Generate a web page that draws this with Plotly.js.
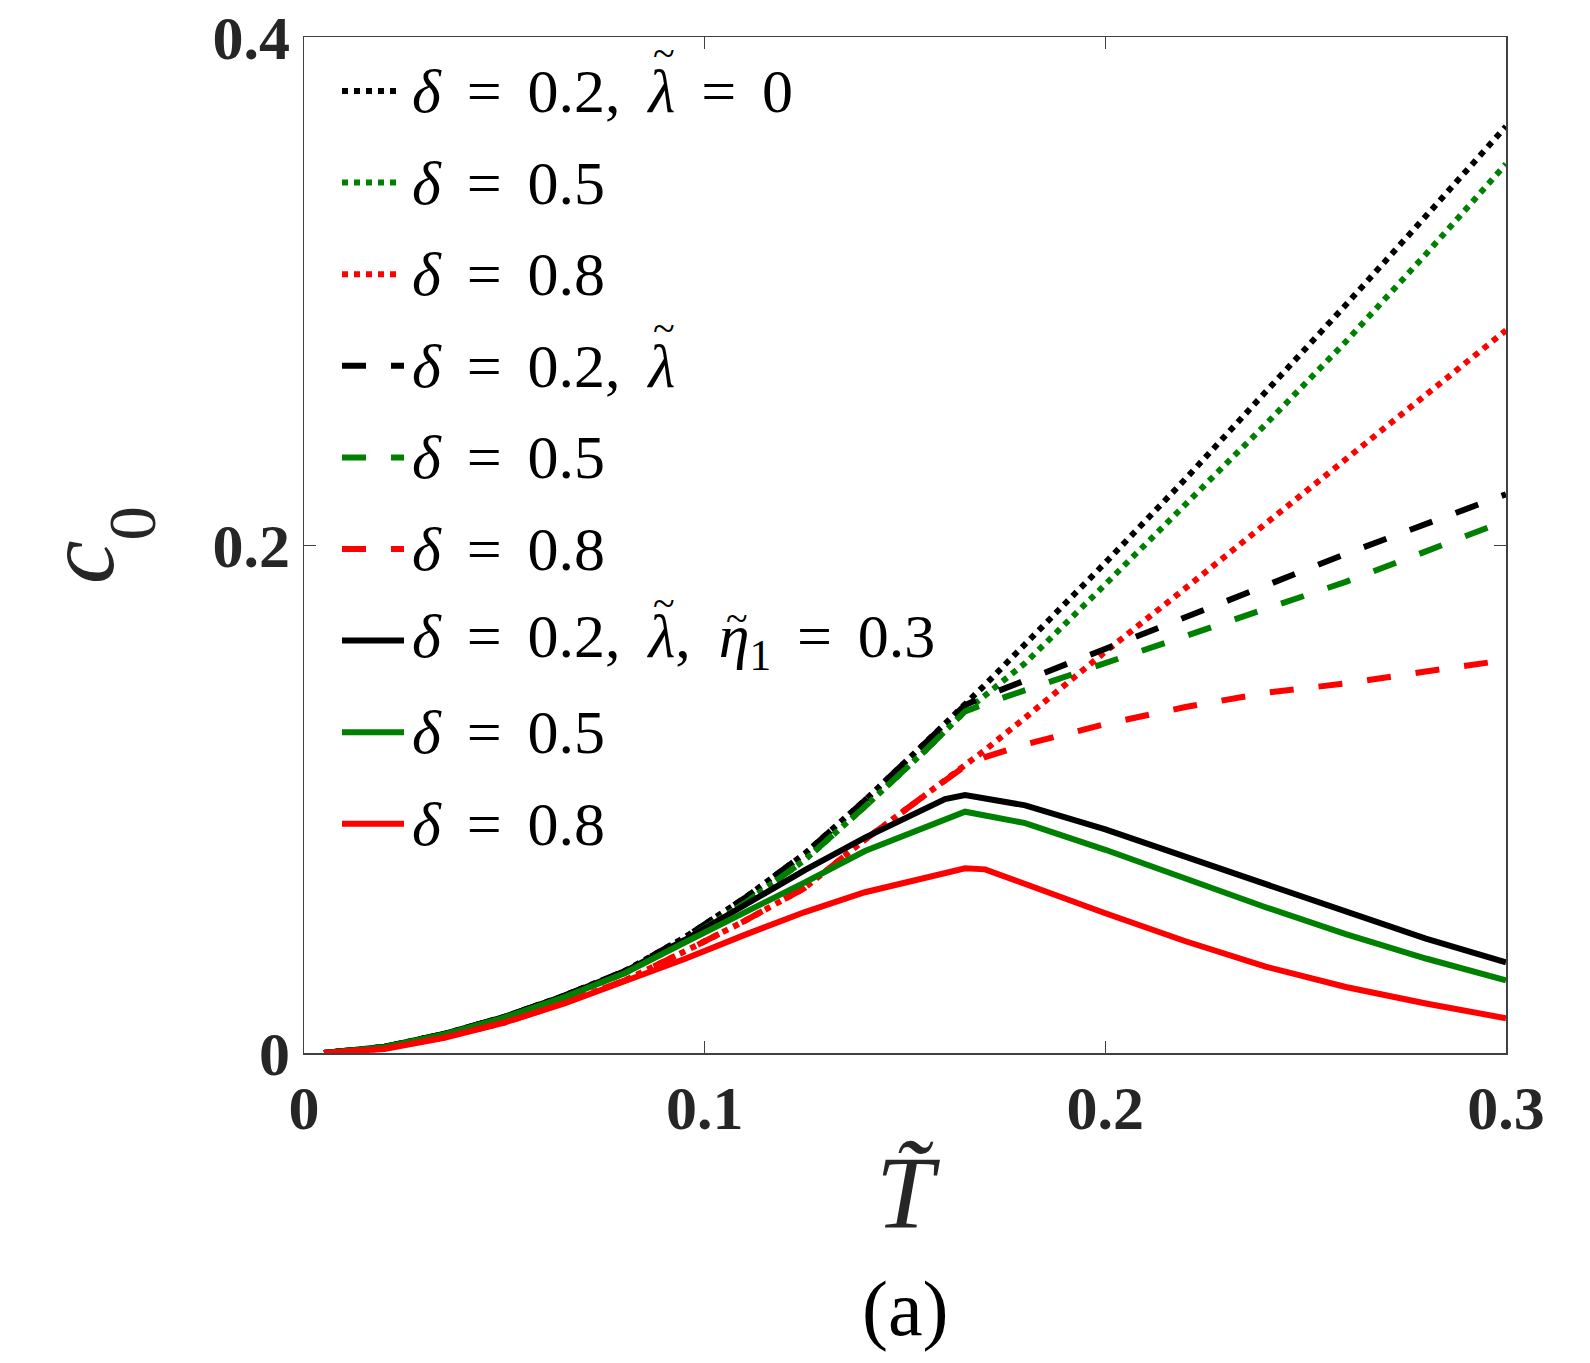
<!DOCTYPE html>
<html>
<head>
<meta charset="utf-8">
<script src="https://cdn.plot.ly/plotly-3.0.1.min.js"></script>
<style>
  html, body { margin: 0; padding: 0; background: #ffffff; }
  #chart { width: 1590px; height: 1363px; }
</style>
</head>
<body>
<div id="chart"></div>
<script>
// Reduced temperature grid shared by every curve
const T = [0.005, 0.02, 0.035, 0.05, 0.065, 0.08, 0.095, 0.11, 0.125, 0.14,
           0.155, 0.16, 0.165, 0.17, 0.18, 0.2, 0.22, 0.24, 0.26, 0.28, 0.3];

// lambda = 0 (dotted)
const c0_d02_noLambda = [0, 0.0024, 0.0075, 0.0142, 0.0226, 0.0322, 0.0455, 0.0610, 0.0785, 0.0995,
                         0.1220, 0.1295, 0.1370, 0.1450, 0.1610, 0.1930, 0.2260, 0.2600, 0.2945, 0.3295, 0.3648];
const c0_d05_noLambda = [0, 0.0023, 0.0073, 0.0139, 0.0221, 0.0315, 0.0443, 0.0590, 0.0760, 0.0970,
                         0.1190, 0.1268, 0.1345, 0.1408, 0.1535, 0.1845, 0.2160, 0.2475, 0.2800, 0.3145, 0.3500];
const c0_d08_noLambda = [0, 0.0018, 0.0062, 0.0120, 0.0198, 0.0285, 0.0400, 0.0520, 0.0650, 0.0840,
                         0.1015, 0.1072, 0.1130, 0.1193, 0.1320, 0.1580, 0.1830, 0.2085, 0.2340, 0.2595, 0.2845];

// finite lambda (dashed)
const c0_d02_lambda = [0, 0.0024, 0.0075, 0.0142, 0.0226, 0.0322, 0.0455, 0.0610, 0.0785, 0.0995,
                       0.1220, 0.1295, 0.1370, 0.1405, 0.1468, 0.1590, 0.1715, 0.1840, 0.1965, 0.2085, 0.2200];
const c0_d05_lambda = [0, 0.0023, 0.0073, 0.0139, 0.0221, 0.0315, 0.0443, 0.0590, 0.0760, 0.0970,
                       0.1190, 0.1268, 0.1345, 0.1375, 0.1428, 0.1535, 0.1645, 0.1750, 0.1855, 0.1975, 0.2096];
const c0_d08_lambda = [0, 0.0018, 0.0062, 0.0120, 0.0198, 0.0285, 0.0400, 0.0520, 0.0650, 0.0840,
                       0.1015, 0.1072, 0.1130, 0.1165, 0.1215, 0.1295, 0.1362, 0.1418, 0.1455, 0.1502, 0.1547];

// finite lambda with eta1 = 0.3 (solid)
const c0_d02_eta = [0, 0.0024, 0.0075, 0.0142, 0.0225, 0.0320, 0.0445, 0.0585, 0.0720, 0.0848,
                    0.0965, 0.1000, 0.1016, 0.1003, 0.0975, 0.0880, 0.0772, 0.0662, 0.0553, 0.0450, 0.0357];
const c0_d05_eta = [0, 0.0023, 0.0073, 0.0139, 0.0220, 0.0314, 0.0435, 0.0552, 0.0672, 0.0795,
                    0.0888, 0.0919, 0.0950, 0.0935, 0.0905, 0.0800, 0.0687, 0.0574, 0.0468, 0.0372, 0.0286];
const c0_d08_eta = [0, 0.0016, 0.0060, 0.0120, 0.0195, 0.0280, 0.0370, 0.0465, 0.0555, 0.0633,
                    0.0690, 0.0708, 0.0727, 0.0723, 0.0665, 0.0550, 0.0440, 0.0340, 0.0260, 0.0195, 0.0137];

// Legend labels, one per curve in trace order (U+0303 marks a tilde accent)
const EQ = '\u2004\u200a=\u2004\u200a';
const legendLabels = [
  '<i>δ</i>' + EQ + '0.2,\u2009 <i>λ\u0303</i>' + EQ + '0',
  '<i>δ</i>' + EQ + '0.5',
  '<i>δ</i>' + EQ + '0.8',
  '<i>δ</i>' + EQ + '0.2,\u2009 <i>λ\u0303</i>',
  '<i>δ</i>' + EQ + '0.5',
  '<i>δ</i>' + EQ + '0.8',
  '<i>δ</i>' + EQ + '0.2,\u2009 <i>λ\u0303</i>,\u2009 <i>η\u0303</i><sub>1</sub>' + EQ + '0.3',
  '<i>δ</i>' + EQ + '0.5',
  '<i>δ</i>' + EQ + '0.8'
];

const xTicks = [0, 0.1, 0.2, 0.3];
const xTickText = ['0', '0.1', '0.2', '0.3'];
const yTicks = [0, 0.2, 0.4];
const yTickText = ['0', '0.2', '0.4'];

const BLACK = '#000000', GREEN = '#008000', RED = '#ff0000';
const DOT = '6px,6px', DASH = '24px,25px', SOLID = 'solid';
const LW = 6;
const SERIF = '"Liberation Serif", "Times New Roman", Times, serif';
const FONT_NAME = 'Liberation Serif';

const series = [
  {y: c0_d02_noLambda, color: BLACK, dash: DOT},
  {y: c0_d05_noLambda, color: GREEN, dash: DOT},
  {y: c0_d08_noLambda, color: RED,   dash: DOT},
  {y: c0_d02_lambda,   color: BLACK, dash: DASH},
  {y: c0_d05_lambda,   color: GREEN, dash: DASH},
  {y: c0_d08_lambda,   color: RED,   dash: DASH},
  {y: c0_d02_eta,      color: BLACK, dash: SOLID},
  {y: c0_d05_eta,      color: GREEN, dash: SOLID},
  {y: c0_d08_eta,      color: RED,   dash: SOLID}
];

const traces = series.map((s, i) => ({
  type: 'scatter',
  mode: 'lines',
  x: T,
  y: s.y,
  name: legendLabels[i].replace(/\u0303/g, ''),
  showlegend: false,
  hoverinfo: 'skip',
  line: {color: s.color, width: LW, dash: s.dash}
}));

// Page geometry
const W = 1590, H = 1363;
const M = {l: 304, r: 84, t: 37, b: 310};
const PW = W - M.l - M.r;
const PH = H - M.t - M.b;
const px = x => (x - M.l) / PW;
const py = y => (M.t + PH - y) / PH;

// Text measuring, used to put tilde accents over Greek letters
const ctx = document.createElement('canvas').getContext('2d');
function textWidth(str, size, italic) {
  ctx.font = (italic ? 'italic ' : '') + size + 'px "' + FONT_NAME + '"';
  return ctx.measureText(str).width;
}

// Splits a label into runs, strips the accent marks and returns where they go
function layoutLabel(label, size) {
  const parts = label.split(/(<i>.*?<\/i>|<sub>.*?<\/sub>)/).filter(p => p.length);
  let x = 0;
  const accents = [];
  parts.forEach(p => {
    let italic = false, sz = size, inner = p;
    if (p.startsWith('<i>')) { italic = true; inner = p.slice(3, -4); }
    else if (p.startsWith('<sub>')) { sz = size * 0.7; inner = p.slice(5, -6); }
    const chars = Array.from(inner);
    chars.forEach((ch, k) => {
      if (ch === '\u0303') return;
      const w = textWidth(ch, sz, italic);
      if (chars[k + 1] === '\u0303') accents.push({x: x + w * 0.5, ch: ch});
      x += w;
    });
  });
  return {text: label.replace(/\u0303/g, ''), accents: accents};
}

// Hand-drawn legend: line samples plus text, stacked from the top left
const shapes = [];
const annotations = [];
const LEG_SIZE = 62;
const rowTop = 91, rowStep = 91.6;
const sampleX0 = 342, textX0 = 410;
series.forEach((s, i) => {
  const yy = rowTop + i * rowStep;
  const len = s.dash === DOT ? 57 : 62;
  shapes.push({
    type: 'line', xref: 'paper', yref: 'paper',
    x0: px(sampleX0), x1: px(sampleX0 + len), y0: py(yy), y1: py(yy),
    line: {color: s.color, width: LW, dash: s.dash}
  });
  const lab = layoutLabel(legendLabels[i], LEG_SIZE);
  annotations.push({
    xref: 'paper', yref: 'paper',
    x: px(textX0), y: py(yy), xanchor: 'left', yanchor: 'middle',
    text: lab.text, showarrow: false,
    font: {family: SERIF, size: LEG_SIZE, color: '#000000'}
  });
  lab.accents.forEach(a => {
    const tall = a.ch === 'λ';
    annotations.push({
      xref: 'paper', yref: 'paper',
      x: px(textX0 + 2 + a.x + (tall ? 2 : 3)), y: py(yy - (tall ? 37 : 22)),
      xanchor: 'center', yanchor: 'middle',
      text: '~', showarrow: false,
      font: {family: SERIF, size: 40, color: '#000000'}
    });
  });
});

// Panel caption
annotations.push({
  xref: 'paper', yref: 'paper', x: 0.5, y: py(1308), xanchor: 'center', yanchor: 'middle',
  text: '(a)', showarrow: false,
  font: {family: SERIF, size: 78, color: '#000000'}
});

const axisCommon = {
  showgrid: false, zeroline: false,
  showline: true, linecolor: '#404040', linewidth: 1.5,
  mirror: 'allticks',
  ticks: 'inside', ticklen: 12, tickwidth: 1, tickcolor: '#404040',
  tickfont: {family: SERIF, size: 62, color: '#262626', weight: 'bold'},
  fixedrange: true
};

const layout = {
  width: W, height: H,
  margin: M,
  paper_bgcolor: '#ffffff', plot_bgcolor: '#ffffff',
  showlegend: false,
  xaxis: Object.assign({}, axisCommon, {
    range: [0, 0.3], tickmode: 'array', tickvals: xTicks, ticktext: xTickText,
    title: {text: '<i>T\u0303</i>', font: {family: SERIF, size: 104, color: '#262626'}, standoff: 14}
  }),
  yaxis: Object.assign({}, axisCommon, {
    range: [0, 0.4], tickmode: 'array', tickvals: yTicks, ticktext: yTickText,
    title: {
      text: '<i>c</i><sub><span style="baseline-shift:-21px">0</span></sub>\u00a0',
      font: {family: SERIF, size: 98, color: '#262626'}, standoff: 66
    }
  }),
  shapes: shapes,
  annotations: annotations
};

Plotly.newPlot('chart', traces, layout, {displayModeBar: false, staticPlot: true});
</script>
</body>
</html>
